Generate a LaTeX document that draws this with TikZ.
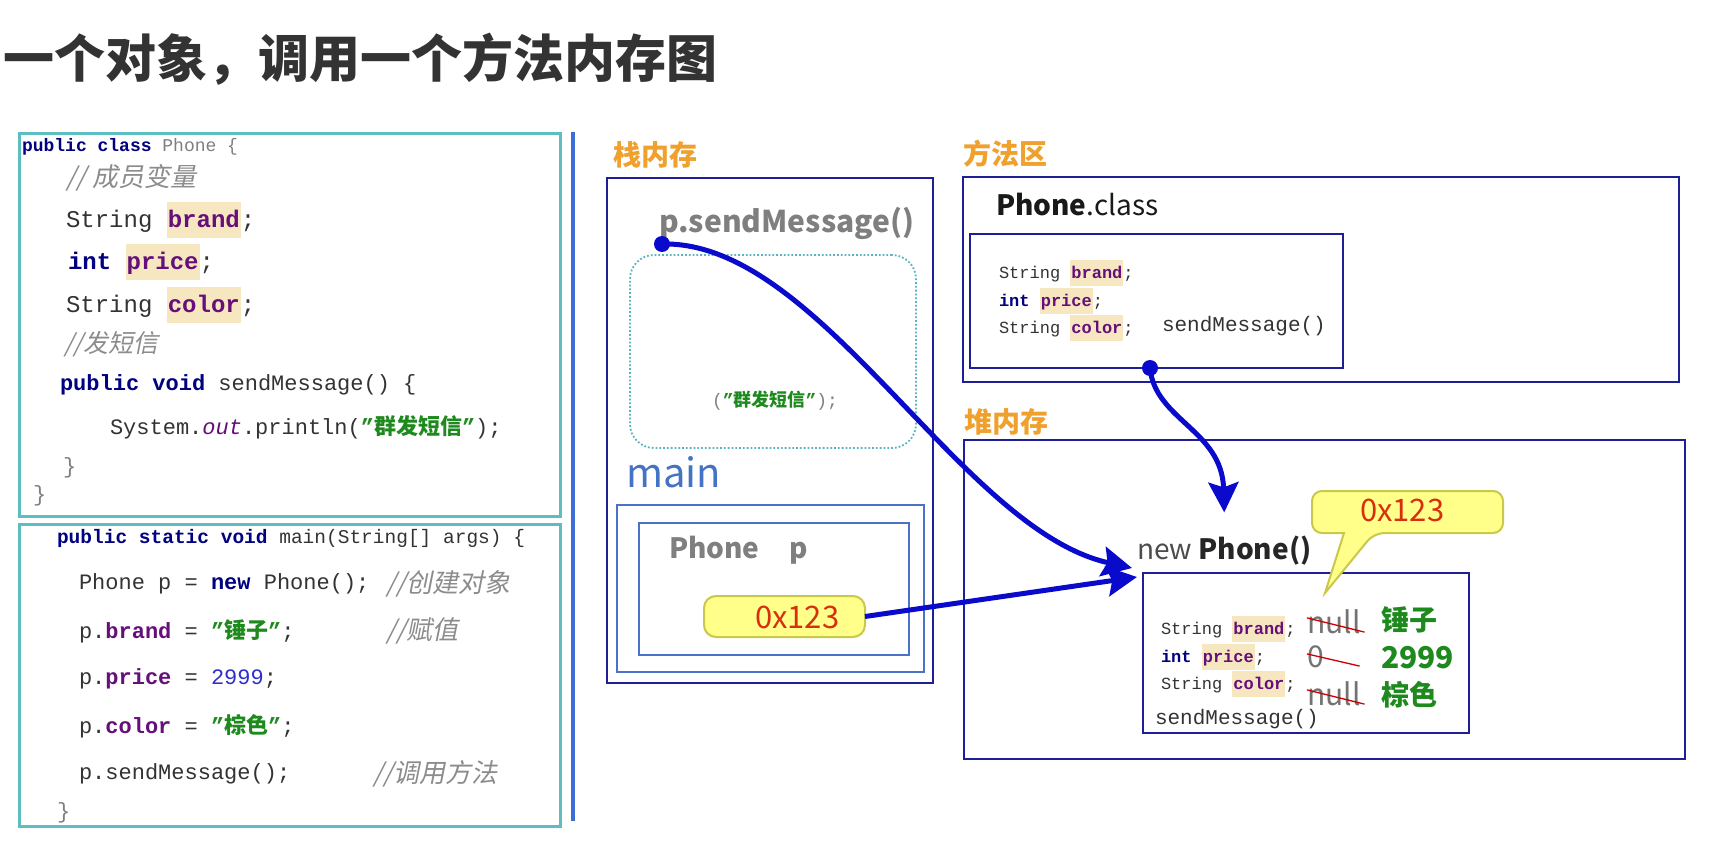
\documentclass[tikz,border=0pt]{standalone}
\usepackage{fontspec}
\setmainfont{Noto Sans CJK SC}
\setmonofont{Liberation Mono}
\newfontfamily\cjk{Noto Sans CJK SC}
\newfontfamily\cjkit{Noto Sans CJK SC}[FakeSlant=0.2]
\usetikzlibrary{arrows.meta}
\definecolor{kw}{HTML}{000080}
\definecolor{fld}{HTML}{660E7A}
\definecolor{strg}{HTML}{1E8A1E}
\definecolor{cmt}{HTML}{8C8C8C}
\definecolor{num}{HTML}{2E2ECC}
\definecolor{hl}{HTML}{F6E7C1}
\definecolor{codeborder}{HTML}{5DBEC2}
\definecolor{orangelbl}{HTML}{F0A02C}
\definecolor{darkbox}{HTML}{1E1E96}
\definecolor{midbox}{HTML}{4A72C8}
\definecolor{arrowblue}{HTML}{0A0ACC}
\definecolor{divider}{HTML}{3C6ED6}
\definecolor{grtxt}{HTML}{7F7F7F}
\definecolor{redtxt}{HTML}{D8300E}
\definecolor{yfill}{HTML}{FFFF8A}
\definecolor{ydraw}{HTML}{C9C84A}
\definecolor{titlec}{HTML}{333333}
\definecolor{codetxt}{HTML}{333333}
\definecolor{mainblue}{HTML}{4472C4}
\definecolor{dotteal}{HTML}{5AB4C0}
\newcommand\kwd[1]{{\bfseries\color{kw}#1}}
\newcommand\fldn[1]{{\bfseries\color{fld}#1}}
\newcommand\hlbox[1]{{\setlength\fboxsep{1pt}\colorbox{hl}{\rule[-.4em]{0pt}{1.4em}#1}}}
\newcommand\strv[1]{{\bfseries\color{strg}#1}}
\newcommand\fs[1]{\fontsize{#1}{#1}\selectfont}
\tikzset{
  txt/.style={inner sep=0pt, outer sep=0pt, anchor=west, text=codetxt},
  frame/.style={anchor=north west, inner sep=0pt, outer sep=0pt},
  codeframe/.style={frame, draw=codeborder, line width=3pt},
  membox/.style={frame, draw=darkbox, line width=2.5pt},
  framebox/.style={frame, draw=midbox, line width=2.5pt},
  link/.style={draw=arrowblue, line width=5pt, -{Stealth[length=30pt,width=30pt,inset=5pt]}},
  lbl/.style={txt, text=orangelbl, font=\cjk\fs{28}\bfseries},
  cmtstyle/.style={txt, text=cmt, font=\cjkit\fs{26}},
  strike/.style={draw=red!80!black, line width=1.3pt},
  dotnode/.style={circle, fill=arrowblue, minimum size=16pt, inner sep=0pt},
}
\begin{document}
\begin{tikzpicture}[x=1pt,y=-1pt]
\useasboundingbox[fill=white] (0,0) rectangle (1722,848);

% title
\node[txt, text=titlec, font=\cjk\fs{51}\bfseries] (title) at (4,59) {一个对象，调用一个方法内存图};

% code frames
\node[codeframe, minimum width=541pt, minimum height=382pt] (cls) at (19,134) {};
\node[codeframe, minimum width=541pt, minimum height=302pt] (mainc) at (19,524) {};
\draw[draw=divider, line width=4pt] (573,132) -- (573,821);

% class code
\node[txt, font=\ttfamily\fs{18}] (c1) at (22,147) {\kwd{public class} {\color{grtxt}Phone \{}};
\node[cmtstyle] (c2) at (66,178) {// 成员变量};
\node[txt, font=\ttfamily\fs{24}] (c3) at (66,220) {String \hlbox{\fldn{brand}};};
\node[txt, font=\ttfamily\fs{24}] (c4) at (68,262) {\kwd{int} \hlbox{\fldn{price}};};
\node[txt, font=\ttfamily\fs{24}] (c5) at (66,305) {String \hlbox{\fldn{color}};};
\node[cmtstyle, font=\cjkit\fs{25}] (c6) at (64,344) {//发短信};
\node[txt, font=\ttfamily\fs{22}] (c7) at (60,385) {\kwd{public void} sendMessage() \{};
\node[txt, font=\ttfamily\fs{22}] (c8) at (110,427) {System.{\itshape\color{fld}out}.println(\strv{”{\cjk 群发短信}”});};
\node[txt, font=\ttfamily\fs{22}, text=grtxt] (c9) at (63,468) {\}};
\node[txt, font=\ttfamily\fs{22}, text=grtxt] (c10) at (33,496) {\}};

% main code
\node[txt, font=\ttfamily\fs{19.5}] (m1) at (57,538) {\kwd{public static void} main(String[] args) \{};
\node[txt, font=\ttfamily\fs{22}] (m2) at (79,584) {Phone p = \kwd{new} Phone();};
\node[cmtstyle] (m2c) at (386,584) {//创建对象};
\node[txt, font=\ttfamily\fs{22}] (m3) at (79,631) {p.\fldn{brand} = \strv{”{\cjk 锤子}”};};
\node[cmtstyle] (m3c) at (386,631) {//赋值};
\node[txt, font=\ttfamily\fs{22}] (m4) at (79,679) {p.\fldn{price} = {\color{num}2999};};
\node[txt, font=\ttfamily\fs{22}] (m5) at (79,726) {p.\fldn{color} = \strv{”{\cjk 棕色}”};};
\node[txt, font=\ttfamily\fs{22}] (m6) at (79,774) {p.sendMessage();};
\node[cmtstyle] (m6c) at (373,774) {//调用方法};
\node[txt, font=\ttfamily\fs{22}, text=grtxt] (m7) at (57,813) {\}};

% stack
\node[lbl] (stackl) at (613,155) {栈内存};
\node[membox, minimum width=326pt, minimum height=505pt] (stack) at (607,178) {};
\node[frame, draw=dotteal, line width=1.8pt, dotted, rounded corners=24pt, minimum width=286pt, minimum height=193pt] (frame2) at (630,255) {};
\node[txt, text=grtxt, font=\cjk\fs{30}\bfseries] (call) at (659,223) {p.sendMessage()};
\node[txt, font=\ttfamily\fs{18}, text=grtxt] (print) at (712,401) {(\strv{”{\cjk 群发短信}”});};
\node[txt, text=mainblue, font=\cjk\fs{40}] (mainl) at (626,472) {main};
\node[framebox, minimum width=307pt, minimum height=167pt] (frame1) at (617,505) {};
\node[framebox, minimum width=270pt, minimum height=132pt] (varbox) at (639,523) {};
\node[txt, text=grtxt, font=\cjk\fs{28}\bfseries] (pvar) at (669,550) {Phone\hspace{30pt}p};
\node[frame, draw=ydraw, fill=yfill, line width=2pt, rounded corners=12pt, minimum width=161pt, minimum height=41pt] (pill) at (704,596) {};
\node[txt, text=redtxt, font=\cjk\fs{31}] (addr1) at (755,617) {0x123};

% method area
\node[lbl] (methl) at (963,154) {方法区};
\node[membox, minimum width=716pt, minimum height=205pt] (meth) at (963,177) {};
\node[txt, text=black!90, font=\cjk\fs{28}] (pclass) at (996,205) {{\bfseries Phone}.class};
\node[membox, minimum width=373pt, minimum height=134pt] (methin) at (970,234) {};
\node[txt, font=\ttfamily\fs{17}] (f1) at (999,273) {String \hlbox{\fldn{brand}};};
\node[txt, font=\ttfamily\fs{17}] (f2) at (999,301) {\kwd{int} \hlbox{\fldn{price}};};
\node[txt, font=\ttfamily\fs{17}] (f3) at (999,328) {String \hlbox{\fldn{color}};};
\node[txt, font=\ttfamily\fs{21}] (f4) at (1162,326) {sendMessage()};

% heap
\node[lbl] (heapl) at (964,422) {堆内存};
\node[membox, minimum width=721pt, minimum height=319pt] (heap) at (964,440) {};
\node[txt, font=\cjk\fs{28}] (np) at (1137,551) {{\color{black!70}new} {\bfseries\color{black!85}Phone()}};
\node[membox, minimum width=326pt, minimum height=160pt] (obj) at (1143,573) {};
\node[txt, font=\ttfamily\fs{17}] (o1) at (1161,629) {String \hlbox{\fldn{brand}};};
\node[txt, font=\ttfamily\fs{17}] (o2) at (1161,657) {\kwd{int} \hlbox{\fldn{price}};};
\node[txt, font=\ttfamily\fs{17}] (o3) at (1161,684) {String \hlbox{\fldn{color}};};
\node[txt, font=\ttfamily\fs{21}] (o4) at (1155,719) {sendMessage()};
\node[txt, text=black!55, font=\cjk\fs{30}] (n1) at (1307,622) {null};
\node[txt, text=black!55, font=\cjk\fs{30}] (n2) at (1307,657) {0};
\node[txt, text=black!55, font=\cjk\fs{30}] (n3) at (1307,694) {null};
\draw[strike] ([yshift=-8pt]n1.north west) -- ([xshift=4pt,yshift=2pt]n1.south east);
\draw[strike] ([yshift=-8pt]n2.north west) -- ([xshift=36pt,yshift=2pt]n2.south east);
\draw[strike] ([yshift=-8pt]n3.north west) -- ([xshift=4pt,yshift=2pt]n3.south east);
\node[txt, text=strg, font=\cjk\fs{28}\bfseries] (v1) at (1381,620) {锤子};
\node[txt, text=strg, font=\cjk\fs{30}\bfseries] (v2) at (1381,658) {2999};
\node[txt, text=strg, font=\cjk\fs{28}\bfseries] (v3) at (1381,695) {棕色};

% callout
\filldraw[fill=yfill, draw=ydraw, line width=2pt, rounded corners=10pt]
  (1312,491) -- (1503,491) -- (1503,533) -- (1374,533)
  [sharp corners] -- (1325,593) -- (1344,533)
  [rounded corners=10pt] -- (1312,533) -- cycle;
\node[txt, text=redtxt, font=\cjk\fs{31}] (addr2) at (1360,510) {0x123};

% connectors
\node[dotnode] (dot1) at (662,244) {};
\node[dotnode] (dot2) at (1150,368) {};
\coordinate (tip1) at ([xshift=-11pt,yshift=5pt]obj.north west);
\coordinate (tip2) at ([xshift=-6pt,yshift=-4pt]obj.north west);
\coordinate (tip3) at ([yshift=24pt]np.north);
\draw[link] (dot1.center) .. controls (820,240) and (960,530) .. (tip1);
\draw[link] (pill.east) -- (tip2);
\draw[link] (dot2.center) .. controls (1155,420) and (1222,430) .. (tip3);
\end{tikzpicture}
\end{document}
